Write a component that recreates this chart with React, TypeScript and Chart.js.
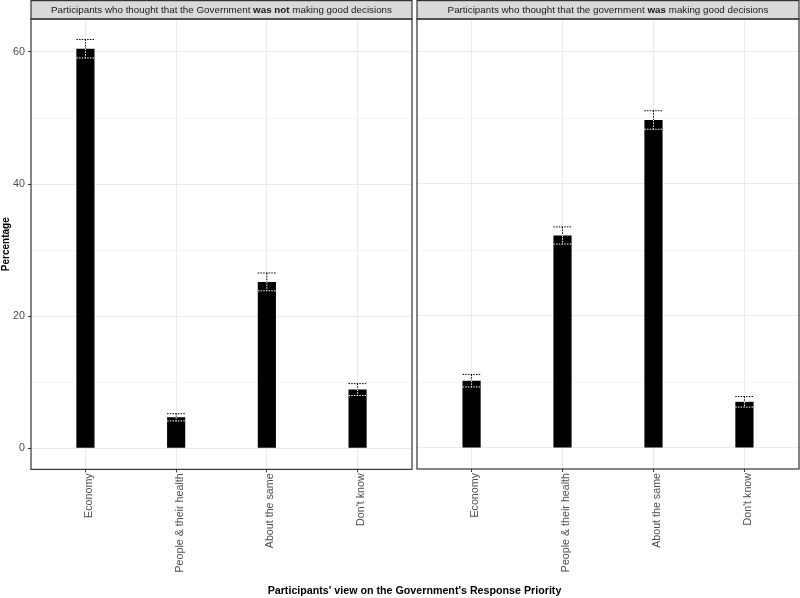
import React, { useEffect, useRef } from "react";
import { Chart, registerables } from "chart.js";

Chart.register(...registerables);

// ---- Data ----
const categories = ["Economy", "People & their health", "About the same", "Don't know"];
const notGoodValues = [60.5, 4.7, 25.2, 8.9];
const notGoodErrors = [1.4, 0.55, 1.35, 0.9];
const goodValues = [10.2, 32.2, 49.7, 7.0];
const goodErrors = [0.95, 1.3, 1.4, 0.8];
const yTickValues = [0, 10, 20, 30, 40, 50, 60];
const yLabelValues = [0, 20, 40, 60];
const leftStrip = [
  { text: "Participants who thought that the Government ", bold: false },
  { text: "was not", bold: true },
  { text: " making good decisions", bold: false },
];
const rightStrip = [
  { text: "Participants who thought that the government ", bold: false },
  { text: "was", bold: true },
  { text: " making good decisions", bold: false },
];
const xTitle = "Participants' view on the Government's Response Priority";
const yTitle = "Percentage";

const FONT = "'Liberation Sans', Arial, Helvetica, sans-serif";

const stripPlugin = {
  id: "strip",
  afterDraw(chart: any, _args: any, opts: any) {
    const { ctx, chartArea } = chart;
    const { left, right, top, bottom } = chartArea;
    ctx.save();
    ctx.fillStyle = "#d9d9d9";
    ctx.fillRect(left, 0.5, right - left, top - 0.5);
    ctx.strokeStyle = "#333333";
    ctx.lineWidth = 1.2;
    ctx.strokeRect(left, 0.6, right - left, top - 0.6);
    ctx.strokeRect(left, top, right - left, bottom - top);
    const parts = opts.parts || [];
    const fontFor = (b: boolean) => `${b ? "bold " : ""}9.8px ${FONT}`;
    let total = 0;
    const widths = parts.map((p: any) => {
      ctx.font = fontFor(p.bold);
      const w = ctx.measureText(p.text).width;
      total += w;
      return w;
    });
    let x = (left + right) / 2 - total / 2;
    const y = top / 2 + 0.5;
    ctx.fillStyle = "#1a1a1a";
    ctx.textBaseline = "middle";
    ctx.textAlign = "left";
    parts.forEach((p: any, i: number) => {
      ctx.font = fontFor(p.bold);
      ctx.fillText(p.text, x, y);
      x += widths[i];
    });
    ctx.restore();
  },
};

const errorBarPlugin = {
  id: "errorBars",
  afterDatasetsDraw(chart: any, _args: any, opts: any) {
    const errs: number[] = opts.errors || [];
    const meta = chart.getDatasetMeta(0);
    const ys = chart.scales.y;
    const ctx = chart.ctx;
    const vals = chart.data.datasets[0].data;
    const line = (x1: number, y1: number, x2: number, y2: number) => {
      ctx.beginPath();
      ctx.moveTo(x1, y1);
      ctx.lineTo(x2, y2);
      ctx.stroke();
    };
    meta.data.forEach((bar: any, i: number) => {
      const v = vals[i].y;
      const e = errs[i];
      const x = bar.x;
      const half = bar.width / 2;
      const top = ys.getPixelForValue(v + e);
      const low = ys.getPixelForValue(v - e);
      const bt = bar.y;
      ctx.save();
      ctx.lineWidth = 1;
      ctx.setLineDash([1.5, 1.2]);
      ctx.strokeStyle = "#000";
      line(x - half, top, x + half, top);
      line(x, top, x, bt);
      ctx.strokeStyle = "#fff";
      line(x, bt, x, low);
      line(x - half, low, x + half, low);
      ctx.restore();
    });
  },
};

function makeConfig(values: number[], errors: number[], parts: any[], isLeft: boolean): any {
  const scales: any = {
    x: {
      type: "linear",
      min: 0.4,
      max: 4.6,
      offset: false,
      afterBuildTicks: (s: any) => {
        s.ticks = categories.map((_, i) => ({ value: i + 1 }));
      },
      ticks: {
        autoSkip: false,
        minRotation: 90,
        maxRotation: 90,
        padding: 1,
        labelOffset: 3.5,
        color: "#4d4d4d",
        font: { size: 10.7, family: FONT },
        callback: (_v: any, idx: number) => categories[idx],
      },
      grid: {
        offset: false,
        color: "#ebebeb",
        lineWidth: 1.1,
        tickLength: 3,
        tickColor: "#333333",
        tickWidth: 1,
      },
      border: { display: false },
      afterFit: (s: any) => {
        s.height = isLeft ? 114.8 : 129;
      },
    },
    y: {
      type: "linear",
      min: -3.18,
      max: 65,
      afterBuildTicks: (s: any) => {
        s.ticks = yTickValues.map((v) => ({ value: v }));
      },
      ticks: {
        display: isLeft,
        padding: 3,
        color: "#4d4d4d",
        font: { size: 10.7, family: FONT },
        callback: (v: any) => (yLabelValues.includes(v) ? String(v) : ""),
      },
      title: {
        display: isLeft,
        text: yTitle,
        color: "#000",
        font: { size: 10, weight: "bold", family: FONT },
        padding: 0,
      },
      grid: {
        color: "#ebebeb",
        lineWidth: (c: any) => (c.tick && yLabelValues.includes(c.tick.value) ? 1.1 : 0.55),
        drawTicks: isLeft,
        tickLength: 3,
        tickWidth: 1,
        tickColor: (c: any) =>
          c.tick && yLabelValues.includes(c.tick.value) ? "#333333" : "rgba(0,0,0,0)",
      },
      border: { display: false },
      afterFit: (s: any) => {
        s.width = isLeft ? 31 : 0;
      },
    },
  };
  if (isLeft) {
    // empty right-hand spacer so the shared x title spans the whole figure
    scales.spacer = {
      type: "linear",
      position: "right",
      display: true,
      ticks: { display: false },
      grid: { display: false, drawTicks: false },
      border: { display: false },
      afterFit: (s: any) => {
        s.width = 417;
      },
    };
  }
  return {
    type: "bar",
    data: {
      datasets: [
        {
          data: values.map((v, i) => ({ x: i + 1, y: v })),
          backgroundColor: "#000000",
          borderWidth: 0,
          barPercentage: 0.2,
          categoryPercentage: 1,
        },
      ],
    },
    options: {
      animation: false,
      responsive: false,
      events: [],
      layout: {
        padding: isLeft
          ? { left: 0, right: 0, top: 19, bottom: 0 }
          : { left: 17, right: 1, top: 19, bottom: 0 },
      },
      plugins: {
        legend: { display: false },
        tooltip: { enabled: false },
        title: isLeft
          ? {
              display: true,
              position: "bottom",
              text: xTitle,
              color: "#000",
              font: { size: 10.7, weight: "bold", family: FONT },
              padding: { top: 0, bottom: 1 },
            }
          : { display: false },
        strip: { parts },
        errorBars: { errors },
      },
      scales,
    },
    plugins: [stripPlugin, errorBarPlugin],
  };
}

export default function App() {
  const aRef = useRef<HTMLCanvasElement>(null);
  const bRef = useRef<HTMLCanvasElement>(null);
  useEffect(() => {
    document.body.style.margin = "0";
    const a = new Chart(aRef.current as HTMLCanvasElement, makeConfig(notGoodValues, notGoodErrors, leftStrip, true));
    const b = new Chart(bRef.current as HTMLCanvasElement, makeConfig(goodValues, goodErrors, rightStrip, false));
    return () => {
      a.destroy();
      b.destroy();
    };
  }, []);
  return (
    <div style={{ position: "relative", width: 800, height: 598, overflow: "hidden", background: "#fff" }}>
      <canvas ref={aRef} width={829} height={598} style={{ position: "absolute", left: 0, top: 0 }} />
      <canvas ref={bRef} width={400} height={598} style={{ position: "absolute", left: 400, top: 0 }} />
    </div>
  );
}
